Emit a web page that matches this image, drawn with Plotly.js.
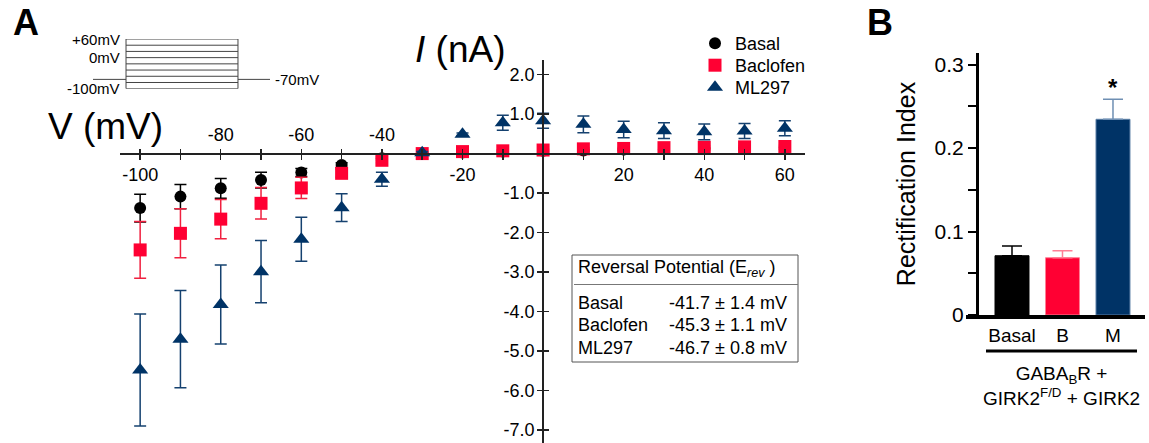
<!DOCTYPE html>
<html>
<head>
<meta charset="utf-8">
<script src="https://cdn.plot.ly/plotly-3.0.1.min.js"></script>
<style>html,body{margin:0;padding:0;background:#fff}#chart{width:1149px;height:443px}</style>
</head>
<body>
<div id="chart"></div>
<script>
// ---------- Data: panel A (I-V curves) ----------
const voltages = [-100, -90, -80, -70, -60, -50, -40, -30, -20, -10, 0, 10, 20, 30, 40, 50, 60];
const basalI    = [-1.38, -1.09, -0.88, -0.67, -0.48, -0.29, -0.12, 0.00, 0.03, 0.05, 0.07, 0.08, 0.10, 0.11, 0.12, 0.13, 0.14];
const basalErr  = [0.35, 0.31, 0.25, 0.20, 0.10, 0.06, 0.04, 0.03, 0.03, 0.03, 0.03, 0.03, 0.03, 0.03, 0.03, 0.03, 0.03];
const baclofenI   = [-2.44, -2.02, -1.66, -1.26, -0.87, -0.50, -0.17, 0.00, 0.05, 0.07, 0.09, 0.12, 0.13, 0.15, 0.16, 0.17, 0.18];
const baclofenErr = [0.72, 0.62, 0.50, 0.40, 0.27, 0.10, 0.06, 0.03, 0.03, 0.03, 0.03, 0.03, 0.03, 0.03, 0.03, 0.03, 0.03];
const ml297I   = [-5.48, -4.70, -3.82, -2.99, -2.17, -1.37, -0.65, 0.02, 0.49, 0.78, 0.83, 0.74, 0.61, 0.58, 0.55, 0.57, 0.64];
const ml297Err = [1.42, 1.23, 1.00, 0.79, 0.56, 0.35, 0.18, 0.03, 0.03, 0.19, 0.19, 0.21, 0.21, 0.20, 0.20, 0.19, 0.19];
const seriesNames = ['Basal', 'Baclofen', 'ML297'];

// Axis ticks and tick labels for panel A
const xTickAll = [-100, -90, -80, -70, -60, -50, -40, -30, -20, -10, 0, 10, 20, 30, 40, 50, 60];
const xLabelsBelow = [-100, -20, 20, 40, 60];
const xLabelsAbove = [-80, -60, -40];
const yTickAll = [-7, -6, -5, -4, -3, -2, -1, 0, 1, 2];
const yLabelVals = [-7, -6, -5, -4, -3, -2, -1, 1, 2];
const yLabelText = ['-7.0', '-6.0', '-5.0', '-4.0', '-3.0', '-2.0', '-1.0', '1.0', '2.0'];

// Voltage protocol inset
const stepLevels = [-100, -80, -60, -40, -20, 0, 20, 40, 60];
const holdingLevel = -70;
const protocolLabels = [{v: 60, t: '+60mV'}, {v: 0, t: '0mV'}, {v: -100, t: '-100mV'}];

// Reversal potential table
const tableTitle = 'Reversal Potential (E<sub><i>rev</i></sub> )';
const tableNames = ['Basal', 'Baclofen', 'ML297'];
const tableValues = ['-41.7 ± 1.4 mV', '-45.3 ± 1.1 mV', '-46.7 ± 0.8 mV'];

// ---------- Data: panel B (rectification index) ----------
const barCats = ['Basal', 'B', 'M'];
const barVals = [0.071, 0.0686, 0.2344];
const barErrs = [0.0116, 0.0084, 0.0239];
const bTicks = [0, 0.1, 0.2, 0.3];
const bTickText = ['0', '0.1', '0.2', '0.3'];
const bMinorTicks = [0.05, 0.15, 0.25];

// ---------- Layout geometry ----------
const W = 1149, H = 443;
const FONT = 'Liberation Sans, Arial, Helvetica, sans-serif';
const px = v => v / W;
const py = v => 1 - v / H;

const colBlack = '#000000', colRed = '#ff0033', colBlue = '#003366';

const xRangeA = [-105, 65];
const yRangeA = [-7.33, 2.37];
const xDomA = [px(120), px(805)];
const yDomA = [py(443), py(60)];
const xAxisPos = yDomA[0] + (0 - yRangeA[0]) / (yRangeA[1] - yRangeA[0]) * (yDomA[1] - yDomA[0]);
const yAxisPos = xDomA[0] + (0 - xRangeA[0]) / (xRangeA[1] - xRangeA[0]) * (xDomA[1] - xDomA[0]);

const traces = [];
const legendIds = ['legend', 'legend2', 'legend3'];
function ivTrace(i, y, err, color, symbol, size, errColor) {
  return {
    type: 'scatter', mode: 'markers', name: seriesNames[i], legend: legendIds[i], x: voltages, y: y,
    xaxis: 'x', yaxis: 'y', cliponaxis: false,
    marker: {color: color, symbol: symbol, size: size},
    error_y: {type: 'data', array: err, visible: true, color: errColor, thickness: 1.5, width: 6}
  };
}
traces.push(ivTrace(0, basalI, basalErr, colBlack, 'circle', 12, '#000000'));
traces.push(ivTrace(1, baclofenI, baclofenErr, colRed, 'square', 13, '#f0203f'));
traces.push(ivTrace(2, ml297I, ml297Err, colBlue, 'triangle-up', 14, '#15416f'));

// placeholder traces so that every overlay axis (ticks / labels) gets a subplot
[['x2', 'y'], ['x5', 'y'], ['x6', 'y'], ['x', 'y2'], ['x', 'y5']].forEach(([xa, ya]) => {
  traces.push({type: 'scatter', mode: 'markers', x: [0], y: [null], xaxis: xa, yaxis: ya,
    showlegend: false, hoverinfo: 'skip', marker: {opacity: 0}});
});

// Inset protocol traces
const stepX = [], stepY = [];
stepLevels.forEach(l => { stepX.push(0, 1, null); stepY.push(l, l, null); });
const vMin = Math.min(...stepLevels), vMax = Math.max(...stepLevels);
stepX.push(0, 0, null, 1, 1); stepY.push(vMin, vMax, null, vMin, vMax);
traces.push({type: 'scatter', mode: 'lines', x: stepX, y: stepY, xaxis: 'x3', yaxis: 'y3',
  line: {color: '#444', width: 1}, showlegend: false, hoverinfo: 'skip', cliponaxis: false});
const insetXRange = [-0.295, 1.286];
traces.push({type: 'scatter', mode: 'lines', xaxis: 'x3', yaxis: 'y3',
  x: [insetXRange[0], 0, null, 1, insetXRange[1]], y: [holdingLevel, holdingLevel, null, holdingLevel, holdingLevel],
  line: {color: '#444', width: 1}, showlegend: false, hoverinfo: 'skip', cliponaxis: false});

// Panel B bars
const barColors = [colBlack, colRed, colBlue];
const barLine = ['#000000', '#ff7f96', '#5b7fa6'];
const barErrCol = ['#000000', '#ff7f96', '#6f8fb3'];
barCats.forEach((c, i) => {
  traces.push({type: 'bar', x: [c], y: [barVals[i]], xaxis: 'x4', yaxis: 'y4', showlegend: false,
    marker: {color: barColors[i], line: {color: barLine[i], width: 1}},
    error_y: {type: 'data', array: [barErrs[i]], symmetric: false, arrayminus: [0], visible: true,
      color: barErrCol[i], thickness: 1.5, width: 10}});
});

const annotations = [];
const ann = (o) => annotations.push(Object.assign({showarrow: false, xref: 'paper', yref: 'paper'}, o));
// panel letters
ann({x: px(26), y: py(22), text: '<b>A</b>', font: {family: FONT, size: 36, color: '#000'}, xanchor: 'center', yanchor: 'middle'});
ann({x: px(880), y: py(22), text: '<b>B</b>', font: {family: FONT, size: 36, color: '#000'}, xanchor: 'center', yanchor: 'middle'});
// axis titles A
ann({x: px(106), y: py(127), text: 'V (mV)', font: {family: FONT, size: 37, color: '#000'}, xanchor: 'center', yanchor: 'middle'});
ann({x: px(460), y: py(50), text: '<i>I</i> (nA)', font: {family: FONT, size: 37, color: '#000'}, xanchor: 'center', yanchor: 'middle'});
// inset labels
protocolLabels.forEach(p => annotations.push({showarrow: false, xref: 'x3', yref: 'y3', x: 0, y: p.v, xanchor: 'right',
  yanchor: 'middle', xshift: -4, text: p.t, font: {family: FONT, size: 15, color: '#000'}}));
annotations.push({showarrow: false, xref: 'x3', yref: 'y3', x: insetXRange[1], y: holdingLevel, xanchor: 'left',
  yanchor: 'middle', xshift: 3, text: '-70mV', font: {family: FONT, size: 15, color: '#000'}});
// table
ann({x: px(576), y: py(268), text: tableTitle, font: {family: FONT, size: 18, color: '#000'}, xanchor: 'left', yanchor: 'middle'});
const rowY = [302.5, 325, 347.5];
tableNames.forEach((n, i) => {
  ann({x: px(576), y: py(rowY[i]), text: n, font: {family: FONT, size: 18, color: '#000'}, xanchor: 'left', yanchor: 'middle'});
  ann({x: px(667), y: py(rowY[i]), text: tableValues[i], font: {family: FONT, size: 18, color: '#000'}, xanchor: 'left', yanchor: 'middle'});
});
// panel B
annotations.push({showarrow: false, xref: 'x4', yref: 'y4', x: barCats[2], y: barVals[2] + barErrs[2], yanchor: 'bottom', yshift: -4,
  text: '<b>*</b>', font: {family: FONT, size: 24, color: '#000'}});
ann({x: px(1061), y: py(386), text: 'GABA<sub>B</sub>R +<br>GIRK2<sup>F/D</sup> + GIRK2', font: {family: FONT, size: 19, color: '#000'},
  xanchor: 'center', yanchor: 'middle'});

const shapes = [
  {type: 'rect', xref: 'paper', yref: 'paper', x0: px(572), x1: px(798), y0: py(255), y1: py(362), line: {color: '#555', width: 1}},
  {type: 'line', xref: 'paper', yref: 'paper', x0: px(574), x1: px(798), y0: py(284.5), y1: py(284.5), line: {color: '#777', width: 1}},
  {type: 'line', xref: 'paper', yref: 'paper', x0: px(986), x1: px(1137), y0: py(351), y1: py(351), line: {color: '#000', width: 3}}
];

const tickFont = {family: FONT, size: 18, color: '#000'};
const legendFont = {family: FONT, size: 18, color: '#000'};
const legendBase = (topPx) => ({x: px(695), y: py(topPx), xanchor: 'left', yanchor: 'top', font: legendFont,
  bgcolor: 'rgba(0,0,0,0)', itemsizing: 'trace'});
const common = {showgrid: false, zeroline: false, fixedrange: true};
const tickStyle = {ticks: 'outside', ticklen: 5, tickwidth: 1.5, tickcolor: '#222'};
const labelOnly = {ticks: 'outside', ticklen: 5, tickwidth: 1, tickcolor: 'rgba(0,0,0,0)', showline: false, tickfont: tickFont};

const layout = {
  width: W, height: H, margin: {l: 0, r: 0, t: 0, b: 0},
  paper_bgcolor: '#fff', plot_bgcolor: 'rgba(0,0,0,0)',
  showlegend: true,
  legend: legendBase(25), legend2: legendBase(47), legend3: legendBase(69),
  bargap: 0.327, barmode: 'overlay',
  // panel A: tick marks (crossing) on the zero lines
  xaxis: Object.assign({domain: xDomA, range: xRangeA, anchor: 'free', position: xAxisPos, side: 'bottom',
    showline: true, linecolor: '#222', linewidth: 2, tickvals: xTickAll, showticklabels: false}, tickStyle, common),
  xaxis2: Object.assign({overlaying: 'x', range: xRangeA, anchor: 'free', position: xAxisPos, side: 'top',
    showline: false, tickvals: xTickAll, showticklabels: false}, tickStyle, common),
  // panel A: tick labels below and above the V axis
  xaxis5: Object.assign({overlaying: 'x', range: xRangeA, anchor: 'free', position: xAxisPos, side: 'bottom',
    tickvals: xLabelsBelow, ticktext: xLabelsBelow.map(String)}, labelOnly, common),
  xaxis6: Object.assign({overlaying: 'x', range: xRangeA, anchor: 'free', position: xAxisPos, side: 'top',
    tickvals: xLabelsAbove, ticktext: xLabelsAbove.map(String)}, labelOnly, common),
  yaxis: Object.assign({domain: yDomA, range: yRangeA, anchor: 'free', position: yAxisPos, side: 'left',
    showline: true, linecolor: '#222', linewidth: 2, tickvals: yTickAll, showticklabels: false}, tickStyle, common),
  yaxis2: Object.assign({overlaying: 'y', range: yRangeA, anchor: 'free', position: yAxisPos, side: 'right',
    showline: false, tickvals: yTickAll, showticklabels: false}, tickStyle, common),
  yaxis5: Object.assign({overlaying: 'y', range: yRangeA, anchor: 'free', position: yAxisPos, side: 'left',
    tickvals: yLabelVals, ticktext: yLabelText}, labelOnly, common),
  // inset
  xaxis3: {domain: [px(93), px(270)], range: insetXRange, anchor: 'y3', visible: false, fixedrange: true},
  yaxis3: {domain: [py(88.7), py(39)], range: [-100, 60], anchor: 'x3', visible: false, fixedrange: true},
  // panel B
  xaxis4: Object.assign({domain: [px(966), px(1145)], range: [-0.911, 2.634], anchor: 'y4', type: 'category',
    showline: true, linecolor: '#000', linewidth: 4, ticks: '', tickfont: {family: FONT, size: 19, color: '#000'}}, common),
  yaxis4: Object.assign({domain: [py(315), py(53)], range: [0, 0.3138], anchor: 'free', position: px(977),
    showline: true, linecolor: '#000', linewidth: 3, ticks: 'outside', ticklen: 8, tickwidth: 2, tickcolor: '#000',
    tickvals: bTicks, ticktext: bTickText, tickfont: {family: FONT, size: 21, color: '#000'},
    minor: {tickvals: bMinorTicks, ticks: 'outside', ticklen: 8, tickwidth: 2, tickcolor: '#000'},
    title: {text: 'Rectification Index', font: {family: FONT, size: 25, color: '#000'}, standoff: 10}}, common),
  annotations: annotations, shapes: shapes
};

Plotly.newPlot('chart', traces, layout, {displayModeBar: false, staticPlot: true});
</script>
</body>
</html>
